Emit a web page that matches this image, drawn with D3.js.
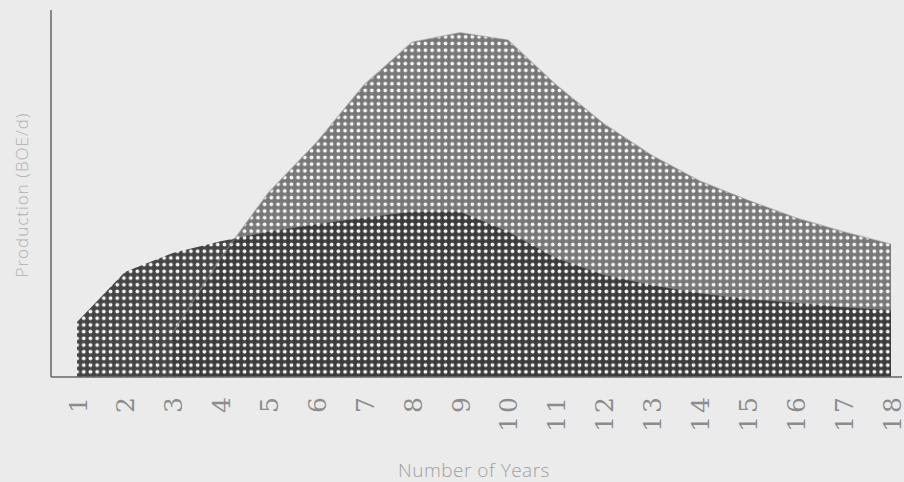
<!DOCTYPE html>
<html>
<head>
<meta charset="utf-8">
<script src="https://cdn.jsdelivr.net/npm/d3@7"></script>
<style>
  body { margin: 0; background: #ebebeb; }
  svg { display: block; }
</style>
</head>
<body>
<div id="chart"></div>
<script>
// years on the x axis
const years = d3.range(1, 19);
// production of the older wells (dark area), years 1-18
const darkValues = [75, 143, 169, 185, 198, 208, 217, 225, 225, 198, 162, 139, 125, 114, 106, 101, 95, 91];
// production of the newer wells (light area), starts in year 3
const lightYears = d3.range(3, 19);
const lightValues = [60, 162, 251, 319, 398, 456, 469, 459, 398, 345, 302, 267, 241, 217, 198, 181];

const width = 904, height = 482;
const svg = d3.select('#chart').append('svg')
  .attr('width', width)
  .attr('height', height);

// dot patterns for the two areas
const defs = svg.append('defs');
function dot_pattern(id, bg) {
  const p = defs.append('pattern')
    .attr('id', id)
    .attr('patternUnits', 'userSpaceOnUse')
    .attr('width', 6.7)
    .attr('height', 6.7);
  p.append('rect').attr('width', 6.7).attr('height', 6.7).attr('fill', bg);
  p.append('circle').attr('cx', 3.35).attr('cy', 3.35).attr('r', 1.9).attr('fill', '#f6f6f6');
}
dot_pattern('dotsLight', '#777777');
dot_pattern('dotsDark', '#363636');

const x = d3.scaleLinear().domain([1, 18]).range([77, 891]);
const y = d3.scaleLinear().domain([0, 500]).range([377, 10]);

const area = d3.area()
  .x(d => x(d[0]))
  .y0(y(0))
  .y1(d => y(d[1]));

const light = d3.zip(lightYears, lightValues);

// light area sits behind
svg.append('path')
  .datum(light)
  .attr('d', area)
  .attr('fill', 'url(#dotsLight)');

// dark area in front, slightly see-through
svg.append('path')
  .datum(d3.zip(years, darkValues))
  .attr('d', area)
  .attr('fill', 'url(#dotsDark)')
  .attr('fill-opacity', 0.92);

// faint outline of the light area showing through the dark one
svg.append('path')
  .datum(light)
  .attr('d', d3.line().x(d => x(d[0])).y(d => y(d[1])))
  .attr('fill', 'none')
  .attr('stroke', '#8a8a8a')
  .attr('stroke-opacity', 0.5)
  .attr('stroke-width', 1.5);

// axis lines
svg.append('line')
  .attr('x1', 51).attr('x2', 51)
  .attr('y1', y(500)).attr('y2', y(0))
  .attr('stroke', '#666').attr('stroke-width', 1.5);
svg.append('line')
  .attr('x1', 51).attr('x2', 902)
  .attr('y1', y(0)).attr('y2', y(0))
  .attr('stroke', '#666').attr('stroke-width', 1.5);

// year labels, rotated
const xAxis = svg.append('g')
  .attr('transform', `translate(0, ${y(0) + 17})`)
  .call(d3.axisBottom(x).tickValues(years).tickFormat(d3.format('d')).tickSize(0));
xAxis.select('.domain').remove();
xAxis.selectAll('text')
  .attr('transform', 'rotate(-90)')
  .attr('x', 0)
  .attr('y', 0)
  .attr('dy', '0.36em')
  .attr('text-anchor', 'end')
  .attr('font-family', 'DejaVu Serif')
  .attr('font-size', 25)
  .attr('letter-spacing', '3px')
  .attr('fill', '#8c8c8c');

// axis titles
svg.append('text')
  .attr('transform', 'translate(28, 195) rotate(-90)')
  .attr('text-anchor', 'middle')
  .attr('font-family', 'Open Sans')
  .attr('font-weight', 300)
  .attr('font-size', 17)
  .attr('letter-spacing', '1px')
  .attr('fill', '#b0b0b0')
  .text('Production (BOE/d)');

svg.append('text')
  .attr('x', 474)
  .attr('y', 477)
  .attr('text-anchor', 'middle')
  .attr('font-family', 'Open Sans')
  .attr('font-weight', 300)
  .attr('font-size', 19)
  .attr('letter-spacing', '0.5px')
  .attr('fill', '#a0a0a0')
  .text('Number of Years');
</script>
</body>
</html>
